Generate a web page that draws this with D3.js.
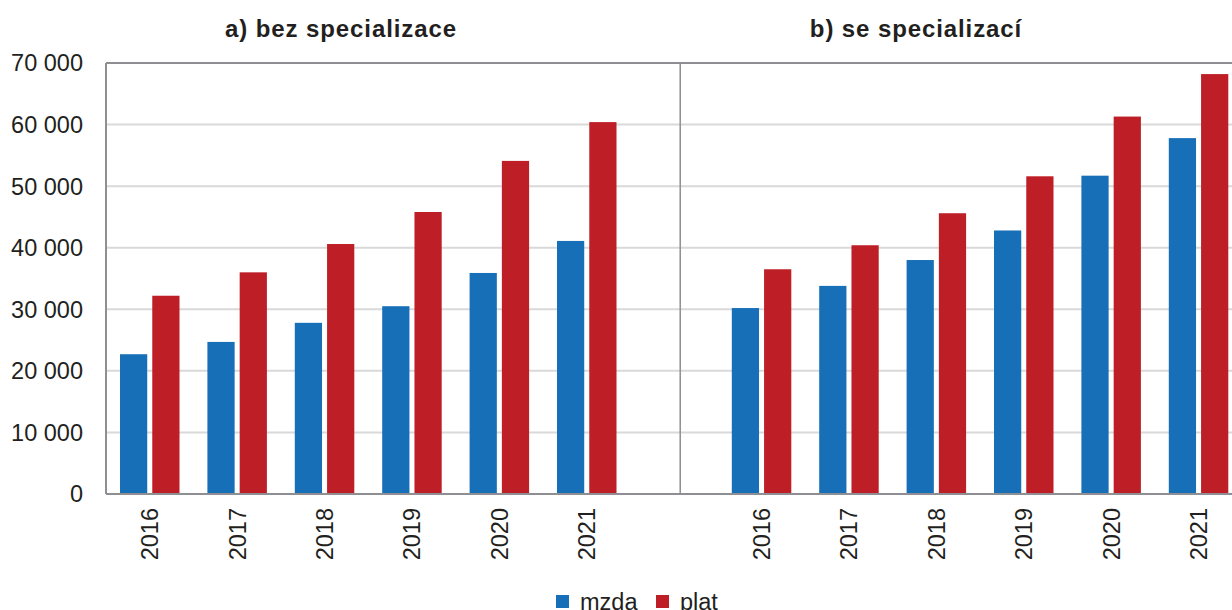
<!DOCTYPE html>
<head>
  <meta charset="utf-8">
  <script src="https://d3js.org/d3.v7.min.js"></script>
  <style>
    body { margin:0; background:#fff; }
    text { font-family: "Liberation Sans", Arial, sans-serif; fill:#231f20; }
  </style>
</head>
<body>
<script>
  // data
  var years = ["2016", "2017", "2018", "2019", "2020", "2021"];
  var series = ["mzda", "plat"];
  var colors = ["#176fb8", "#be1e26"];
  var panelTitles = ["a) bez specializace", "b) se specializací"];
  var mzdaA = [22700, 24700, 27800, 30500, 35900, 41100];
  var platA = [32200, 36000, 40600, 45800, 54100, 60400];
  var mzdaB = [30200, 33800, 38000, 42800, 51700, 57800];
  var platB = [36500, 40400, 45600, 51600, 61300, 68200];
  var yTicks = [0, 10000, 20000, 30000, 40000, 50000, 60000, 70000];

  var W = 1232, H = 610;
  var plotLeft = 106, plotTop = 63, plotBottom = 494, step = 87.4;

  var svg = d3.select("body").append("svg")
      .attr("width", W).attr("height", H);

  // slot keys: 6 years, a gap, 6 years
  var slots = years.map(function(y) { return "a" + y; })
      .concat(["gap"])
      .concat(years.map(function(y) { return "b" + y; }));

  var rows = [];
  years.forEach(function(y, i) {
    rows.push({key: "a" + y, year: y, values: [mzdaA[i], platA[i]]});
  });
  years.forEach(function(y, i) {
    rows.push({key: "b" + y, year: y, values: [mzdaB[i], platB[i]]});
  });

  var x = d3.scaleBand().domain(slots)
      .range([plotLeft, plotLeft + step * slots.length]).padding(0);
  var x1 = d3.scaleBand().domain(series)
      .range([14, 73.5]).paddingInner(0.156);
  var y = d3.scaleLinear().domain([0, 70000]).range([plotBottom, plotTop]);

  // gridlines
  svg.append("g").selectAll("line").data(yTicks.slice(1, -1)).enter()
    .append("line")
      .attr("x1", plotLeft).attr("x2", W)
      .attr("y1", function(d) { return y(d); })
      .attr("y2", function(d) { return y(d); })
      .attr("stroke", "#d9d9d9").attr("stroke-width", 2);

  // bars
  var g = svg.append("g").selectAll("g").data(rows).enter()
    .append("g")
      .attr("transform", function(d) { return "translate(" + x(d.key) + ",0)"; });
  g.selectAll("rect").data(function(d) {
      return d.values.map(function(v, i) { return {s: series[i], v: v, c: colors[i]}; });
    }).enter()
    .append("rect")
      .attr("x", function(d) { return x1(d.s); })
      .attr("width", x1.bandwidth())
      .attr("y", function(d) { return y(d.v); })
      .attr("height", function(d) { return y(0) - y(d.v); })
      .attr("fill", function(d) { return d.c; });

  // frame: top, left, bottom, divider
  var frame = svg.append("g").attr("stroke", "#8e8e93").attr("stroke-width", 2);
  frame.append("line").attr("x1", plotLeft).attr("x2", W).attr("y1", y(70000)).attr("y2", y(70000));
  frame.append("line").attr("x1", plotLeft).attr("x2", W).attr("y1", y(0)).attr("y2", y(0));
  frame.append("line").attr("x1", plotLeft).attr("x2", plotLeft).attr("y1", y(70000)).attr("y2", y(0));
  var divX = x("gap") + x.bandwidth() * 0.57;
  frame.append("line").attr("x1", divX).attr("x2", divX)
    .attr("y1", y(70000)).attr("y2", y(0)).attr("stroke-width", 1.5);

  // y axis labels
  var fmt = function(d) { return d3.format(",")(d).replace(/,/g, " "); };
  svg.append("g").selectAll("text").data(yTicks).enter()
    .append("text")
      .attr("x", plotLeft - 23)
      .attr("y", function(d) { return y(d); })
      .attr("dy", "0.36em")
      .attr("text-anchor", "end")
      .style("font-size", "23.5px")
      .text(fmt);

  // x labels
  svg.append("g").selectAll("text").data(rows).enter()
    .append("text")
      .attr("transform", function(d) {
        return "translate(" + (x(d.key) + x.bandwidth() / 2) + ",508) rotate(-90)";
      })
      .attr("dy", "0.36em")
      .attr("text-anchor", "end")
      .style("font-size", "23.5px")
      .text(function(d) { return d.year; });

  // panel titles
  svg.append("text").attr("x", 341).attr("y", 37)
    .attr("text-anchor", "middle").style("font-size", "24px").style("font-weight", "bold")
    .style("letter-spacing", "0.9px")
    .text(panelTitles[0]);
  svg.append("text").attr("x", 916).attr("y", 37)
    .attr("text-anchor", "middle").style("font-size", "24px").style("font-weight", "bold")
    .style("letter-spacing", "0.9px")
    .text(panelTitles[1]);

  // legend
  var lg = svg.append("g").attr("transform", "translate(556,595)");
  var lx = [0, 100];
  series.forEach(function(s, i) {
    lg.append("rect").attr("x", lx[i]).attr("y", 0).attr("width", 13).attr("height", 13)
      .attr("fill", colors[i]);
    lg.append("text").attr("x", lx[i] + 24).attr("y", 6.5).attr("dy", "0.36em")
      .style("font-size", "23.5px").text(s);
  });
</script>
</body>
